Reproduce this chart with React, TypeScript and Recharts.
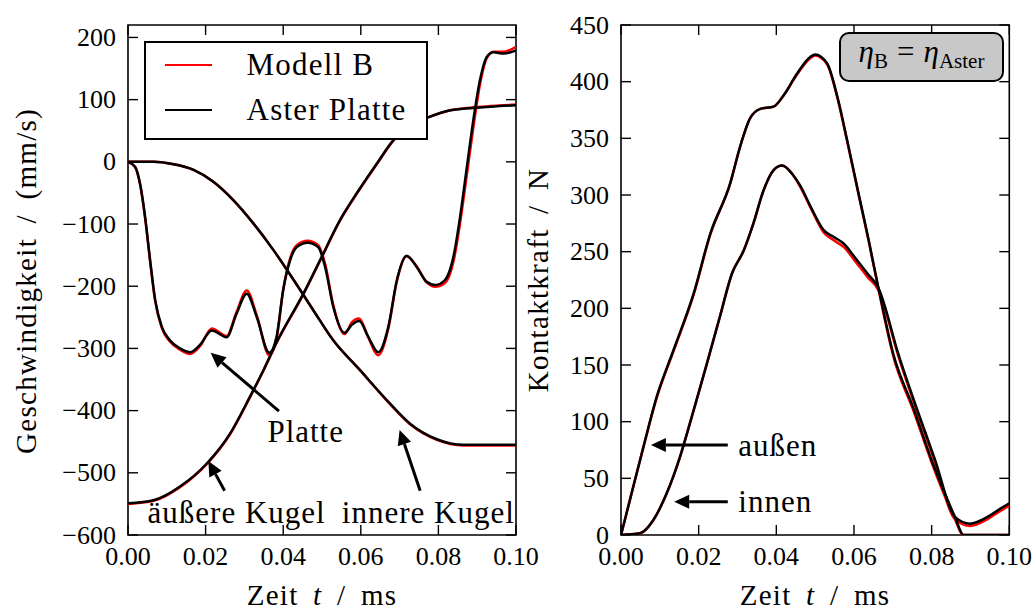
import React from 'react';
import { LineChart, Line, XAxis, YAxis, ReferenceArea, ReferenceLine, ReferenceDot, Legend } from 'recharts';

type Pt = [number, number];

// Geschwindigkeit in mm/s über Zeit t in ms
const platteAster: Pt[] = [
  [0, 0], [0.0018, -8], [0.0031, -35], [0.0044, -88], [0.0057, -158], [0.007, -222], [0.0087, -265],
  [0.0108, -287], [0.0134, -300], [0.016, -306], [0.0186, -294], [0.0216, -271], [0.0254, -282],
  [0.028, -244], [0.0306, -212], [0.0332, -250], [0.0364, -307], [0.0383, -281], [0.04, -206],
  [0.0418, -158], [0.0435, -137], [0.0463, -130], [0.049, -137], [0.0508, -169], [0.0529, -233],
  [0.0558, -275], [0.0577, -262], [0.0596, -256], [0.0619, -281], [0.0645, -306], [0.0671, -265],
  [0.0693, -190], [0.0718, -151], [0.0744, -169], [0.077, -193], [0.0792, -198], [0.0817, -190],
  [0.0839, -152], [0.0856, -88], [0.0873, -10], [0.089, 67], [0.0907, 131], [0.0925, 169],
  [0.0942, 176], [0.0968, 174], [0.1, 179],
];
const platteModellB: Pt[] = [
  [0, 0], [0.0018, -8], [0.0031, -36], [0.0044, -90], [0.0057, -160], [0.007, -224], [0.0087, -267],
  [0.0108, -289], [0.0134, -302], [0.016, -309], [0.0186, -296], [0.0216, -268], [0.0254, -280],
  [0.028, -241], [0.0306, -207], [0.0332, -247], [0.0364, -311], [0.0383, -284], [0.04, -206],
  [0.0418, -155], [0.0435, -134], [0.0463, -127], [0.049, -134], [0.0508, -164], [0.0529, -230],
  [0.0558, -277], [0.0577, -258], [0.0596, -252], [0.0619, -282], [0.0645, -311], [0.0671, -268],
  [0.0693, -192], [0.0718, -152], [0.0744, -168], [0.077, -194], [0.0792, -201], [0.0817, -195],
  [0.0839, -160], [0.0856, -98], [0.0873, -22], [0.089, 55], [0.0907, 124], [0.0925, 167],
  [0.0942, 177], [0.0968, 177], [0.1, 185],
];
const innereKugelAster: Pt[] = [
  [0, 0], [0.0066, 0], [0.0118, -4], [0.0169, -13], [0.022, -32], [0.0272, -62], [0.0323, -99],
  [0.0375, -142], [0.0427, -190], [0.0478, -239], [0.0529, -287], [0.0598, -335], [0.0667, -383],
  [0.0727, -421], [0.0796, -446], [0.0864, -455], [0.1, -455],
];
const innereKugelModellB: Pt[] = [
  [0, 0], [0.0066, 0], [0.0118, -4], [0.0169, -13], [0.022, -32], [0.0272, -62], [0.0323, -99],
  [0.0375, -142], [0.0427, -190], [0.0478, -239], [0.0529, -287], [0.0598, -335], [0.0667, -384],
  [0.0727, -422], [0.0796, -447], [0.0864, -456], [0.1, -456],
];
const aeussereKugelAster: Pt[] = [
  [0, -549], [0.0066, -544], [0.0134, -522], [0.0203, -485], [0.0263, -437], [0.0314, -378],
  [0.0349, -335], [0.0383, -290], [0.0452, -212], [0.0499, -153], [0.0546, -94], [0.0589, -51],
  [0.0641, -3], [0.0684, 35], [0.072, 56], [0.0775, 72], [0.0831, 83], [0.0899, 87], [0.1, 91],
];
const aeussereKugelModellB: Pt[] = [
  [0, -550], [0.0066, -545], [0.0134, -523], [0.0203, -486], [0.0263, -438], [0.0314, -379],
  [0.0349, -336], [0.0383, -291], [0.0452, -213], [0.0499, -154], [0.0546, -95], [0.0589, -52],
  [0.0641, -4], [0.0684, 34], [0.072, 56], [0.0775, 72], [0.0831, 83], [0.0899, 88], [0.1, 92],
];

// Kontaktkraft in N über Zeit t in ms
const aussenAster: Pt[] = [
  [0, 0], [0.0023, 31], [0.0058, 78], [0.0092, 122], [0.0135, 163], [0.0187, 213], [0.023, 266],
  [0.0281, 310], [0.0307, 343], [0.0333, 368], [0.0359, 376], [0.0393, 378], [0.0419, 388],
  [0.0453, 407], [0.0488, 422], [0.05, 424], [0.0531, 416], [0.0557, 387], [0.0582, 349],
  [0.0612, 301], [0.0638, 260], [0.0663, 218], [0.0701, 160], [0.0754, 111], [0.08, 66],
  [0.086, 16], [0.0882, 0], [0.1, 0],
];
const aussenModellB: Pt[] = [
  [0, 0], [0.0023, 31], [0.0058, 78], [0.0092, 121], [0.0135, 162], [0.0187, 212], [0.023, 265],
  [0.0281, 310], [0.0307, 343], [0.0333, 368], [0.0359, 376], [0.0393, 378], [0.0419, 388],
  [0.0453, 406], [0.0488, 421], [0.05, 423], [0.0531, 415], [0.0557, 386], [0.0582, 348],
  [0.0612, 300], [0.0638, 259], [0.0663, 217], [0.0701, 158], [0.0754, 109], [0.08, 64],
  [0.086, 14], [0.0881, 0], [0.1, 0],
];
const innenAster: Pt[] = [
  [0, 0], [0.0049, 1.5], [0.0083, 13], [0.0118, 37], [0.0152, 69], [0.0187, 110], [0.0221, 151],
  [0.0255, 193], [0.0286, 231], [0.0316, 251], [0.0341, 275], [0.0367, 304], [0.0393, 322],
  [0.0415, 326], [0.044, 319], [0.0462, 308], [0.0488, 290], [0.0522, 269], [0.0548, 263],
  [0.0574, 257], [0.06, 246], [0.0634, 231], [0.0663, 218], [0.0714, 160], [0.0809, 66],
  [0.086, 16], [0.0899, 10], [0.0944, 16], [0.0976, 23], [0.1, 28],
];
const innenModellB: Pt[] = [
  [0, 0], [0.0049, 1.5], [0.0083, 13], [0.0118, 37], [0.0152, 69], [0.0187, 110], [0.0221, 151],
  [0.0255, 193], [0.0286, 231], [0.0316, 251], [0.0341, 275], [0.0367, 304], [0.0393, 322],
  [0.0415, 326], [0.044, 319], [0.0462, 307], [0.0488, 289], [0.0522, 267], [0.0548, 260],
  [0.0574, 254], [0.06, 243], [0.0634, 228], [0.0663, 216], [0.0714, 158], [0.0809, 64],
  [0.086, 14], [0.0899, 8], [0.0944, 14], [0.0976, 21], [0.1, 26],
];

const timeTicks = [0, 0.02, 0.04, 0.06, 0.08, 0.1];
const timeTickLabels = ['0.00', '0.02', '0.04', '0.06', '0.08', '0.10'];
const speedTicks = [-600, -500, -400, -300, -200, -100, 0, 100, 200];
const speedTickLabels = ['\u2212600', '\u2212500', '\u2212400', '\u2212300', '\u2212200', '\u2212100', '0', '100', '200'];
const forceTicks = [0, 50, 100, 150, 200, 250, 300, 350, 400, 450];
const forceTickLabels = ['0', '50', '100', '150', '200', '250', '300', '350', '400', '450'];

const LEGEND_ORDER = ['Modell B', 'Aster Platte'];
const RED = '#ff0000';
const BLACK = '#000000';

const FONT = '"Liberation Serif", "Times New Roman", serif';
const W = 1034;
const H = 613;
const TOP = 25;
const BOTTOM = 535;
const LEFT_X0 = 128;
const LEFT_X1 = 516;
const RIGHT_X0 = 621;
const RIGHT_X1 = 1009.3;

const toRows = (pts: Pt[]) => pts.map(([t, y]) => ({ t, y }));

const makeYTick = (x0: number, x1: number, ticks: number[], labels: string[]) => (p: any) => {
  const y = p.payload?.coordinate ?? p.y;
  const i = ticks.indexOf(p.payload.value);
  return (
    <g>
      <line x1={x0} x2={x0 + 10} y1={y} y2={y} stroke="#000" strokeWidth={1.4} />
      <line x1={x1 - 10} x2={x1} y1={y} y2={y} stroke="#000" strokeWidth={1.4} />
      <text x={x0 - 12} y={y} textAnchor="end" dominantBaseline="central" fontFamily={FONT} fontSize={26} fill="#000">
        {labels[i]}
      </text>
    </g>
  );
};

const makeXTick = (p: any) => {
  const x = p.payload?.coordinate ?? p.x;
  const i = timeTicks.indexOf(p.payload.value);
  return (
    <g>
      <line x1={x} x2={x} y1={BOTTOM} y2={BOTTOM - 10} stroke="#000" strokeWidth={1.4} />
      <line x1={x} x2={x} y1={TOP} y2={TOP + 10} stroke="#000" strokeWidth={1.4} />
      <text x={x} y={565} textAnchor="middle" fontFamily={FONT} fontSize={26} fill="#000">
        {timeTickLabels[i]}
      </text>
    </g>
  );
};

const Arrow = (p: any) => {
  const { x1, y1, x2, y2 } = p;
  const dx = x2 - x1;
  const dy = y2 - y1;
  const len = Math.hypot(dx, dy) || 1;
  const ux = dx / len;
  const uy = dy / len;
  const hl = 15;
  const hw = 7;
  const bx = x2 - ux * hl;
  const by = y2 - uy * hl;
  return (
    <g>
      <line x1={x1} y1={y1} x2={bx} y2={by} stroke="#000" strokeWidth={3} />
      <polygon points={`${x2},${y2} ${bx - uy * hw},${by + ux * hw} ${bx + uy * hw},${by - ux * hw}`} fill="#000" />
    </g>
  );
};

const annText = (label: string, anchor: 'start' | 'middle') => (p: any) => (
  <text x={p.cx} y={p.cy} textAnchor={anchor} fontFamily={FONT} fontSize={31} letterSpacing={1} fill="#000">
    {label}
  </text>
);

// annotations: text position and arrow tail/head in data units
const speedNotes = [
  { label: 'Platte', anchor: 'middle' as const, at: [0.0458, -450], tail: [0.0389, -401], head: [0.0213, -307] },
  { label: '\u00e4u\u00dfere Kugel', anchor: 'middle' as const, at: [0.028, -580], tail: [0.0249, -529], head: [0.0207, -481] },
  { label: 'innere Kugel', anchor: 'middle' as const, at: [0.0774, -580], tail: [0.0753, -529], head: [0.07, -431] },
];
const forceNotes = [
  { label: 'au\u00dfen', anchor: 'start' as const, at: [0.0302, 70], tail: [0.0275, 79.4], head: [0.0077, 79.4] },
  { label: 'innen', anchor: 'start' as const, at: [0.0302, 20], tail: [0.0275, 29.4], head: [0.0137, 29.4] },
];

const LegendBox = (props: any) => {
  const payload = props.payload || [];
  const items = LEGEND_ORDER.map((n) => payload.find((e: any) => e.value === n)).filter(Boolean);
  return (
    <div
      style={{
        width: 284, height: 99, boxSizing: 'border-box', border: '2px solid #000',
        background: '#fff', position: 'relative', fontFamily: FONT, color: '#000',
      }}
    >
      {items.map((e: any, i: number) => (
        <div key={e.value} style={{ position: 'absolute', left: 0, top: 2 + i * 45, height: 40, display: 'flex', alignItems: 'center' }}>
          <div style={{ marginLeft: 19, width: 47, height: 0, borderTop: `2.5px solid ${e.color}` }} />
          <span style={{ marginLeft: 35, fontSize: 31, letterSpacing: 1.2, lineHeight: '40px', whiteSpace: 'nowrap' }}>{e.value}</span>
        </div>
      ))}
    </div>
  );
};

const lineProps = {
  type: 'monotone' as const,
  dataKey: 'y',
  dot: false,
  activeDot: false,
  isAnimationActive: false,
  strokeWidth: 2.5,
};

// axes need a size of at least 1px or recharts skips their ticks
const SpeedChart = () => (
  <LineChart width={W} height={H} margin={{ top: TOP, bottom: H - BOTTOM - 1, left: LEFT_X0 - 1, right: W - LEFT_X1 }}>
    <XAxis dataKey="t" type="number" domain={[0, 0.1]} ticks={timeTicks} interval={0} height={1}
      axisLine={false} tickLine={false} tick={makeXTick} allowDataOverflow />
    <YAxis type="number" domain={[-600, 220]} ticks={speedTicks} interval={0} width={1}
      axisLine={false} tickLine={false} tick={makeYTick(LEFT_X0, LEFT_X1, speedTicks, speedTickLabels)} allowDataOverflow />
    <ReferenceArea x1={0} x2={0.1} y1={-600} y2={220} fill="none" fillOpacity={0} stroke="#000" strokeWidth={1.6} ifOverflow="visible" />
    <Line {...lineProps} data={toRows(platteModellB)} stroke={RED} name="Modell B" />
    <Line {...lineProps} data={toRows(innereKugelModellB)} stroke={RED} name="Modell B" legendType="none" />
    <Line {...lineProps} data={toRows(aeussereKugelModellB)} stroke={RED} name="Modell B" legendType="none" />
    <Line {...lineProps} data={toRows(platteAster)} stroke={BLACK} name="Aster Platte" />
    <Line {...lineProps} data={toRows(innereKugelAster)} stroke={BLACK} name="Aster Platte" legendType="none" />
    <Line {...lineProps} data={toRows(aeussereKugelAster)} stroke={BLACK} name="Aster Platte" legendType="none" />
    {speedNotes.map((n) => (
      <ReferenceLine key={n.label + 'a'} segment={[{ x: n.tail[0], y: n.tail[1] }, { x: n.head[0], y: n.head[1] }]} shape={Arrow} />
    ))}
    {speedNotes.map((n) => (
      <ReferenceDot key={n.label + 't'} x={n.at[0]} y={n.at[1]} r={1} shape={annText(n.label, n.anchor)} />
    ))}
    <Legend layout="vertical" verticalAlign="middle" align="center" content={(p: any) => <LegendBox {...p} />}
      wrapperStyle={{ left: 143.6, top: 41, width: 284, height: 99 }} />
  </LineChart>
);

const ForceChart = () => (
  <LineChart width={W} height={H} margin={{ top: TOP, bottom: H - BOTTOM - 1, left: RIGHT_X0 - 1, right: W - RIGHT_X1 }}>
    <XAxis dataKey="t" type="number" domain={[0, 0.1]} ticks={timeTicks} interval={0} height={1}
      axisLine={false} tickLine={false} tick={makeXTick} allowDataOverflow />
    <YAxis type="number" domain={[0, 450]} ticks={forceTicks} interval={0} width={1}
      axisLine={false} tickLine={false} tick={makeYTick(RIGHT_X0, RIGHT_X1, forceTicks, forceTickLabels)} allowDataOverflow />
    <ReferenceArea x1={0} x2={0.1} y1={0} y2={450} fill="none" fillOpacity={0} stroke="#000" strokeWidth={1.6} ifOverflow="visible" />
    <Line {...lineProps} data={toRows(aussenModellB)} stroke={RED} name="Modell B" />
    <Line {...lineProps} data={toRows(innenModellB)} stroke={RED} name="Modell B" />
    <Line {...lineProps} data={toRows(aussenAster)} stroke={BLACK} name="Aster Platte" />
    <Line {...lineProps} data={toRows(innenAster)} stroke={BLACK} name="Aster Platte" />
    {forceNotes.map((n) => (
      <ReferenceLine key={n.label + 'a'} segment={[{ x: n.tail[0], y: n.tail[1] }, { x: n.head[0], y: n.head[1] }]} shape={Arrow} />
    ))}
    {forceNotes.map((n) => (
      <ReferenceDot key={n.label + 't'} x={n.at[0]} y={n.at[1]} r={1} shape={annText(n.label, n.anchor)} />
    ))}
  </LineChart>
);

const labelStyle = { fontFamily: FONT, fontSize: 29, letterSpacing: 1.3, wordSpacing: 6 } as React.CSSProperties;

export default function App() {
  return (
    <div style={{ position: 'absolute', left: 0, top: 0, width: W, height: H, background: '#fff' }}>
      <div style={{ position: 'absolute', left: 0, top: 0 }}>
        <ForceChart />
      </div>
      <div style={{ position: 'absolute', left: 0, top: 0 }}>
        <SpeedChart />
      </div>
      <svg width={W} height={H} style={{ position: 'absolute', left: 0, top: 0, pointerEvents: 'none' }}>
        <text x={322} y={605} textAnchor="middle" style={labelStyle} fill="#000">
          {'Zeit '}<tspan fontStyle="italic">t</tspan>{' / ms'}
        </text>
        <text x={815} y={605} textAnchor="middle" style={labelStyle} fill="#000">
          {'Zeit '}<tspan fontStyle="italic">t</tspan>{' / ms'}
        </text>
        <text transform="translate(36,281) rotate(-90)" textAnchor="middle" style={labelStyle} fill="#000">
          Geschwindigkeit / (mm/s)
        </text>
        <text transform="translate(548,280) rotate(-90)" textAnchor="middle" style={labelStyle} fill="#000">
          Kontaktkraft / N
        </text>
        <rect x={840} y={33} width={163} height={48} rx={9} fill="#c8c8c8" stroke="#000" strokeWidth={2} />
        <text x={921.5} y={62} textAnchor="middle" fontFamily={FONT} fontSize={31} fill="#000">
          <tspan fontStyle="italic">η</tspan>
          <tspan fontSize={21} dy={6}>B</tspan>
          <tspan dy={-6} dx={9}>=</tspan>
          <tspan dx={9} fontStyle="italic">η</tspan>
          <tspan fontSize={21} dy={6}>Aster</tspan>
        </text>
      </svg>
    </div>
  );
}
